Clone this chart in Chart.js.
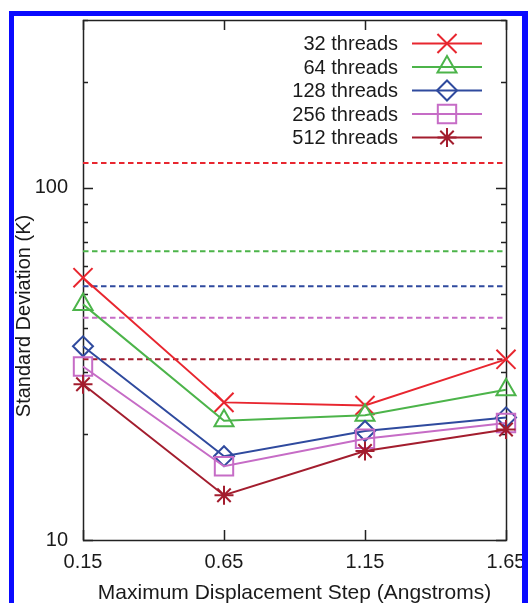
<!DOCTYPE html>
<html>
<head>
<meta charset="utf-8">
<script src="https://cdn.jsdelivr.net/npm/chart.js@4.4.0/dist/chart.umd.min.js"></script>
<style>
  html, body { margin: 0; padding: 0; background: #fff; }
  #wrap { width: 531px; height: 603px; position: relative; }
  canvas { display: block; }
</style>
</head>
<body>
<div id="wrap"><canvas id="chart" width="531" height="603"></canvas></div>
<script>
// Step sizes on the x axis (Angstroms)
const stepSizes = [0.15, 0.65, 1.15, 1.65];

// Standard deviation (K) per thread count
const seriesNames = ['32 threads', '64 threads', '128 threads', '256 threads', '512 threads'];
const threads32  = [55.6, 24.6, 24.1, 32.6];
const threads64  = [46.7, 21.8, 22.6, 26.7];
const threads128 = [35.5, 17.3, 20.4, 22.3];
const threads256 = [31.1, 16.2, 19.4, 21.5];
const threads512 = [27.7, 13.4, 17.9, 20.6];

// Horizontal reference level for each thread count (dashed)
const referenceLevels = [117.8, 66.1, 52.6, 42.8, 32.6];

// Axis ticks
const xTickValues = [0.15, 0.65, 1.15, 1.65];
const yLabelTicks = [10, 100];
const yMinorTicks = [20, 30, 40, 50, 60, 70, 80, 90, 200, 300];
const yRange = [10, 300];

const seriesValues = [threads32, threads64, threads128, threads256, threads512];
const colors = ['#e8262f', '#4cb44a', '#2f4a9e', '#c66cc6', '#a31d2e'];
const markers = ['crossRot', 'triangle', 'rectRot', 'rect', 'star'];
const markerRadius = [13.5, 11, 10, 13, 9.5];

const FONT = "'Liberation Sans', Arial, Helvetica, sans-serif";
const TEXT = '#1a1a1a';

const datasets = [];
referenceLevels.forEach((lvl, i) => {
  datasets.push({
    label: seriesNames[i] + ' reference',
    data: [{ x: stepSizes[0], y: lvl }, { x: stepSizes[stepSizes.length - 1], y: lvl }],
    borderColor: colors[i],
    borderWidth: 2,
    borderDash: [5.5, 3.5],
    pointRadius: 0,
    fill: false,
    order: 20
  });
});
seriesValues.forEach((vals, i) => {
  datasets.push({
    label: seriesNames[i],
    data: vals.map((v, k) => ({ x: stepSizes[k], y: v })),
    borderColor: colors[i],
    backgroundColor: 'rgba(0,0,0,0)',
    borderWidth: 2,
    pointStyle: markers[i],
    pointRadius: markerRadius[i],
    pointBorderWidth: 2,
    pointBorderColor: colors[i],
    pointBackgroundColor: 'rgba(0,0,0,0)',
    fill: false,
    clip: false,
    order: 10 - i
  });
});

function drawMarker(ctx, style, r, x, y, color) {
  if (Chart.helpers && Chart.helpers.drawPoint) {
    ctx.save();
    ctx.strokeStyle = color;
    ctx.fillStyle = 'rgba(0,0,0,0)';
    ctx.lineWidth = 2;
    Chart.helpers.drawPoint(ctx, { pointStyle: style, radius: r, rotation: 0, borderWidth: 2 }, x, y);
    ctx.restore();
  }
}

const decorations = {
  id: 'decorations',
  beforeDraw(chart) {
    const ctx = chart.ctx;
    ctx.save();
    ctx.fillStyle = '#ffffff';
    ctx.fillRect(0, 0, chart.width, chart.height);
    ctx.restore();
  },
  beforeDatasetsDraw(chart) {
    const ctx = chart.ctx;
    const a = chart.chartArea;
    const xs = chart.scales.x, ys = chart.scales.y;
    ctx.save();
    ctx.strokeStyle = '#222222';
    ctx.lineWidth = 1.5;
    ctx.beginPath();
    // major y ticks, both sides
    yLabelTicks.forEach(v => {
      const p = Math.round(ys.getPixelForValue(v)) + 0.5;
      ctx.moveTo(a.left, p); ctx.lineTo(a.left + 10, p);
      ctx.moveTo(a.right, p); ctx.lineTo(a.right - 10, p);
    });
    // minor y ticks, both sides
    yMinorTicks.forEach(v => {
      const p = Math.round(ys.getPixelForValue(v)) + 0.5;
      ctx.moveTo(a.left, p); ctx.lineTo(a.left + 5, p);
      ctx.moveTo(a.right, p); ctx.lineTo(a.right - 5, p);
    });
    // x ticks, bottom and top
    xTickValues.forEach(v => {
      const p = Math.round(xs.getPixelForValue(v)) + 0.5;
      ctx.moveTo(p, a.bottom); ctx.lineTo(p, a.bottom - 10);
      ctx.moveTo(p, a.top); ctx.lineTo(p, a.top + 10);
    });
    ctx.stroke();
    ctx.strokeRect(a.left + 0.5, a.top + 0.5, a.right - a.left, a.bottom - a.top);
    ctx.restore();
  },
  afterDraw(chart) {
    const ctx = chart.ctx;
    // y axis title
    ctx.save();
    ctx.fillStyle = TEXT;
    ctx.font = '20px ' + FONT;
    ctx.textAlign = 'center';
    ctx.textBaseline = 'middle';
    ctx.translate(24, 316);
    ctx.rotate(-Math.PI / 2);
    ctx.fillText('Standard Deviation (K)', 0, 0);
    ctx.restore();

    // legend: text right-aligned, line sample with marker
    ctx.save();
    ctx.font = '20px ' + FONT;
    ctx.textAlign = 'right';
    ctx.textBaseline = 'middle';
    seriesNames.forEach((name, i) => {
      const y = 43.5 + i * 23.5;
      ctx.fillStyle = TEXT;
      ctx.fillText(name, 398, y + 1);
      ctx.strokeStyle = colors[i];
      ctx.lineWidth = 2;
      ctx.beginPath();
      ctx.moveTo(412, y); ctx.lineTo(482, y);
      ctx.stroke();
      drawMarker(ctx, markers[i], markerRadius[i], 447, y, colors[i]);
    });
    ctx.restore();

    // blue frame around the figure
    ctx.save();
    ctx.fillStyle = '#0a0aff';
    ctx.fillRect(9, 11, 519, 5);
    ctx.fillRect(9, 11, 5, 603);
    ctx.fillRect(522, 11, 6, 603);
    ctx.restore();
  }
};

new Chart(document.getElementById('chart'), {
  type: 'line',
  data: { datasets },
  plugins: [decorations],
  options: {
    responsive: false,
    animation: false,
    devicePixelRatio: 1,
    layout: { padding: { left: 0, top: 20, right: 25, bottom: 0 } },
    plugins: { legend: { display: false }, tooltip: { enabled: false } },
    scales: {
      x: {
        type: 'linear',
        min: stepSizes[0],
        max: stepSizes[stepSizes.length - 1],
        afterBuildTicks(scale) { scale.ticks = xTickValues.map(v => ({ value: v })); },
        afterFit(scale) { scale.height = 63; scale.paddingLeft = 0; scale.paddingRight = 0; },
        grid: { display: false, drawTicks: false },
        border: { display: false },
        ticks: {
          color: TEXT,
          font: { family: FONT, size: 20 },
          padding: 10,
          maxRotation: 0,
          callback: v => Number(v).toFixed(2)
        },
        title: {
          display: true,
          text: 'Maximum Displacement Step (Angstroms)',
          color: TEXT,
          font: { family: FONT, size: 21 },
          padding: { top: 3, bottom: -3 }
        }
      },
      y: {
        type: 'logarithmic',
        min: yRange[0],
        max: yRange[1],
        afterBuildTicks(scale) {
          scale.ticks = yLabelTicks.concat(yMinorTicks).sort((a, b) => a - b).map(v => ({ value: v }));
        },
        afterFit(scale) { scale.width = 83; scale.paddingTop = 0; scale.paddingBottom = 0; },
        grid: { display: false, drawTicks: false },
        border: { display: false },
        ticks: {
          color: TEXT,
          font: { family: FONT, size: 20 },
          padding: 15,
          autoSkip: false,
          callback: v => (yLabelTicks.includes(v) ? String(v) : '')
        }
      }
    }
  }
});
</script>
</body>
</html>
